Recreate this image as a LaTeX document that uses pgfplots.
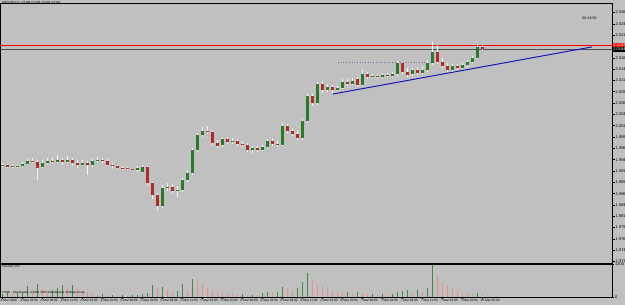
\documentclass[border=0pt]{standalone}
\usepackage{fontspec}
\setmainfont{Liberation Sans}
\usepackage{pgfplots}
\usepackage{pgfplotstable}
\pgfplotsset{compat=1.18}
\definecolor{bg}{HTML}{C0C0C0}
\definecolor{bull}{HTML}{2A7A2A}
\definecolor{bear}{HTML}{B02A2A}
\definecolor{wick}{HTML}{F2F2F2}
\definecolor{vup}{HTML}{3F8A3F}
\definecolor{vdn}{HTML}{E88C8C}
\definecolor{tl}{HTML}{1414B4}
\definecolor{dotc}{HTML}{7070A0}

\pgfplotstableread{
i o h l c
0 1.9926 1.9933 1.9924 1.9928
1 1.9928 1.9931 1.9922 1.9924
2 1.9924 1.9928 1.9922 1.9925
3 1.9924 1.9928 1.9922 1.9926
4 1.9926 1.9935 1.9924 1.9931
5 1.9931 1.9942 1.9928 1.9937
6 1.9937 1.9944 1.9933 1.9935
7 1.9935 1.9939 1.9895 1.9922
8 1.9924 1.9939 1.9922 1.9933
9 1.9933 1.9944 1.9931 1.9937
10 1.9937 1.9946 1.9931 1.9935
11 1.9935 1.9950 1.9933 1.9939
12 1.9939 1.9944 1.9928 1.9935
13 1.9935 1.9948 1.9933 1.9939
14 1.9939 1.9944 1.9926 1.9933
15 1.9933 1.9939 1.9922 1.9928
16 1.9928 1.9939 1.9926 1.9933
17 1.9933 1.9937 1.9906 1.9928
18 1.9928 1.9942 1.9924 1.9937
19 1.9937 1.9946 1.9935 1.9939
20 1.9939 1.9944 1.9933 1.9937
21 1.9937 1.9942 1.9926 1.9928
22 1.9928 1.9933 1.9922 1.9926
23 1.9926 1.9928 1.9920 1.9922
24 1.9922 1.9926 1.9917 1.9921
25 1.9922 1.9924 1.9917 1.9920
26 1.9920 1.9922 1.9915 1.9919
27 1.9917 1.9926 1.9913 1.9922
28 1.9913 1.9928 1.9911 1.9924
29 1.9924 1.9926 1.9884 1.9889
30 1.9889 1.9891 1.9853 1.9862
31 1.9862 1.9866 1.9827 1.9838
32 1.9838 1.9884 1.9833 1.9878
33 1.9878 1.9889 1.9871 1.9880
34 1.9880 1.9886 1.9866 1.9871
35 1.9871 1.9882 1.9858 1.9873
36 1.9873 1.9900 1.9869 1.9895
37 1.9895 1.9917 1.9891 1.9911
38 1.9911 1.9966 1.9906 1.9961
39 1.9961 1.9999 1.9957 1.9995
40 1.9995 2.0012 1.9990 2.0003
41 2.0003 2.0014 1.9997 2.0001
42 2.0001 2.0006 1.9973 1.9977
43 1.9977 1.9984 1.9966 1.9970
44 1.9973 1.9990 1.9968 1.9986
45 1.9986 1.9990 1.9975 1.9979
46 1.9979 1.9988 1.9975 1.9981
47 1.9981 1.9986 1.9970 1.9975
48 1.9975 1.9981 1.9968 1.9973
49 1.9973 1.9977 1.9957 1.9961
50 1.9961 1.9970 1.9955 1.9966
51 1.9966 1.9970 1.9957 1.9961
52 1.9961 1.9973 1.9959 1.9968
53 1.9968 1.9986 1.9966 1.9981
54 1.9981 1.9988 1.9970 1.9975
55 1.9975 1.9984 1.9968 1.9973
56 1.9973 2.0021 1.9970 2.0014
57 2.0014 2.0019 1.9999 2.0003
58 2.0003 2.0008 1.9992 1.9997
59 1.9997 2.0003 1.9984 1.9988
60 1.9988 2.0030 1.9984 2.0025
61 2.0025 2.0087 2.0021 2.0081
62 2.0081 2.0085 2.0059 2.0065
63 2.0065 2.0112 2.0061 2.0107
64 2.0107 2.0114 2.0087 2.0094
65 2.0094 2.0107 2.0089 2.0101
66 2.0101 2.0105 2.0087 2.0094
67 2.0094 2.0103 2.0092 2.0098
68 2.0098 2.0118 2.0096 2.0112
69 2.0112 2.0118 2.0103 2.0107
70 2.0107 2.0120 2.0105 2.0114
71 2.0118 2.0123 2.0101 2.0105
72 2.0105 2.0140 2.0103 2.0129
73 2.0129 2.0134 2.0118 2.0123
74 2.0123 2.0129 2.0120 2.0125
75 2.0125 2.0129 2.0118 2.0123
76 2.0123 2.0131 2.0120 2.0127
77 2.0127 2.0131 2.0120 2.0125
78 2.0125 2.0134 2.0123 2.0129
79 2.0129 2.0158 2.0125 2.0153
80 2.0153 2.0156 2.0129 2.0134
81 2.0134 2.0142 2.0123 2.0127
82 2.0129 2.0142 2.0125 2.0138
83 2.0138 2.0145 2.0127 2.0131
84 2.0131 2.0147 2.0129 2.0138
85 2.0138 2.0160 2.0134 2.0153
86 2.0153 2.0200 2.0149 2.0178
87 2.0178 2.0193 2.0151 2.0156
88 2.0156 2.0165 2.0142 2.0147
89 2.0147 2.0153 2.0134 2.0138
90 2.0138 2.0151 2.0134 2.0147
91 2.0147 2.0151 2.0138 2.0142
92 2.0142 2.0153 2.0140 2.0149
93 2.0149 2.0160 2.0145 2.0156
94 2.0156 2.0169 2.0153 2.0165
95 2.0165 2.0193 2.0162 2.0189
96 2.0189 2.0193 2.0180 2.0184
}\candles

\pgfplotstableread{
i v u
0 120 1
1 165 1
2 130 0
3 150 1
4 205 1
5 440 1
6 285 0
7 520 1
8 330 0
9 240 0
10 275 1
11 365 1
12 480 1
13 395 0
14 470 1
15 320 0
16 245 0
17 210 0
18 125 0
19 85 0
20 115 1
21 80 0
22 90 1
23 50 0
24 75 1
25 45 0
26 70 1
27 85 1
28 120 1
29 165 1
30 490 1
31 360 0
32 410 1
33 275 0
34 205 0
35 240 1
36 515 1
37 290 0
38 730 1
39 640 0
40 520 0
41 365 0
42 280 0
43 200 0
44 160 0
45 125 0
46 115 0
47 80 0
48 110 1
49 85 0
50 90 1
51 70 0
52 160 1
53 205 1
54 165 0
55 195 1
56 405 1
57 320 0
58 285 0
59 360 1
60 610 1
61 960 1
62 690 0
63 480 0
64 440 0
65 320 0
66 240 0
67 205 0
68 160 0
69 195 1
70 125 0
71 200 1
72 160 0
73 120 0
74 130 1
75 85 0
76 115 1
77 90 0
78 120 1
79 205 1
80 240 1
81 275 1
82 165 0
83 285 1
84 200 0
85 360 1
86 1270 1
87 880 0
88 600 0
89 480 0
90 320 0
91 200 0
92 130 0
93 120 0
94 115 0
95 160 1
96 125 0
}\vols

\begin{document}
\begin{tikzpicture}[x=1pt,y=1pt]
\fill[bg] (0,0) rectangle (625,305);
\useasboundingbox (0,0) rectangle (625,305);
\begin{axis}[
  at={(0pt,42pt)}, anchor=south west, scale only axis,
  width=612pt, height=260pt,
  xmin=-0.5, xmax=121.9, ymin=1.97118, ymax=2.02860,
  xtick=\empty,
  ytick={1.9715,1.9740,1.9765,1.9790,1.9815,1.9840,1.9865,1.9890,1.9915,1.9940,1.9965,1.9990,2.0015,2.0040,2.0065,2.0090,2.0115,2.0140,2.0165,2.0190,2.0215,2.0240,2.0265},
  scaled y ticks=false,
  ytick pos=right, yticklabel pos=right,
  tick align=outside, major tick length=2.5pt,
  tick style={black, line width=0.5pt},
  axis line style={black, line width=0.7pt},
  yticklabel style={font=\fontsize{4}{4}\selectfont, inner sep=1pt},
  yticklabel={\pgfmathprintnumber[fixed,fixed zerofill,precision=4,assume math mode=true]{\tick}},
  clip=true,
]
% horizontal lines
\addplot[red, line width=0.8pt] coordinates {(-0.5,2.0193) (121.9,2.0193)};
\addplot[gray!60!black, line width=0.5pt] coordinates {(-0.5,2.0184) (121.9,2.0184)};
% dotted level
\addplot[dotc, dotted, line width=0.7pt] coordinates {(67.1,2.0156) (86.1,2.0156)};
% wicks
\addplot[draw=none, mark=none, error bars/.cd, y dir=plus, y explicit,
  error bar style={draw=wick, solid, line width=0.6pt}, error mark=none]
  table[x=i, y=l, y error plus expr=\thisrow{h}-\thisrow{l}] {\candles};
% bull bodies (zero length where the candle falls)
\addplot[draw=none, mark=none, error bars/.cd, y dir=plus, y explicit,
  error bar style={draw=bull, solid, line width=3pt, line cap=butt}, error mark=none]
  table[x=i, y=o, y error plus expr={max(\thisrow{c}-\thisrow{o},0)}] {\candles};
% bear bodies
\addplot[draw=none, mark=none, error bars/.cd, y dir=plus, y explicit,
  error bar style={draw=bear, solid, line width=3pt, line cap=butt}, error mark=none]
  table[x=i, y=c, y error plus expr={max(\thisrow{o}-\thisrow{c},0)}] {\candles};
% trend line
\addplot[tl, line width=1pt] coordinates {(66.1,2.0085) (117.9,2.0189)};
\end{axis}

\begin{axis}[
  at={(0pt,8pt)}, anchor=south west, scale only axis,
  width=612pt, height=33pt,
  xmin=-0.5, xmax=121.9, ymin=0, ymax=1320,
  xtick={0,4,...,96},
  xticklabels={4 Mar 2008,4 Mar 04:00,4 Mar 08:00,4 Mar 12:00,4 Mar 16:00,4 Mar 20:00,5 Mar 00:00,5 Mar 04:00,5 Mar 08:00,5 Mar 12:00,5 Mar 16:00,5 Mar 20:00,6 Mar 00:00,6 Mar 04:00,6 Mar 08:00,6 Mar 12:00,6 Mar 16:00,6 Mar 20:00,7 Mar 00:00,7 Mar 04:00,7 Mar 08:00,7 Mar 12:00,7 Mar 16:00,7 Mar 20:00,10 Mar 00:00},
  xticklabel style={font=\fontsize{3.2}{3.2}\selectfont, anchor=north west, xshift=-2.5pt, inner sep=0.5pt},
  ytick={0,1300}, yticklabels={0,1300},
  yticklabel style={font=\fontsize{4}{4}\selectfont, inner sep=1pt},
  xtick pos=bottom, ytick pos=right, yticklabel pos=right,
  tick align=outside, major tick length=2pt,
  tick style={black, line width=0.5pt},
  axis line style={black, line width=0.7pt},
  clip=true,
]
\addplot[ycomb, vup, line width=1.2pt, mark=none] table[x=i, y expr={\thisrow{u}*\thisrow{v}}] {\vols};
\addplot[ycomb, vdn, line width=1.2pt, mark=none] table[x=i, y expr={(1-\thisrow{u})*\thisrow{v}}] {\vols};
\end{axis}

% texts
\node[anchor=north west, font=\fontsize{3}{3}\selectfont, inner sep=0pt] at (2,303.5) {GBPUSD,H1\ \ 2.0189 2.0193 2.0180 2.0184};
\node[font=\fontsize{3.6}{3.6}\selectfont, inner sep=0pt] at (589.5,287) {00:18:56};
\node[anchor=west, fill=red, text=white, font=\fontsize{4}{4}\selectfont, inner sep=0.6pt] at (612.5,260) {2.0193};
\node[anchor=west, fill=black, text=white, font=\fontsize{4}{4}\selectfont, inner sep=0.6pt] at (612.5,255.5) {2.0184};
\node[anchor=north west, font=\fontsize{3}{3}\selectfont, inner sep=0pt] at (2,40) {Volumes 125};
\node[anchor=west, font=\fontsize{3}{3}\selectfont, inner sep=0pt] at (2,12) {FXDD - MetaTrader, \textcopyright\ 2001-2007 MetaQuotes Software Corp.};
\end{tikzpicture}
\end{document}
